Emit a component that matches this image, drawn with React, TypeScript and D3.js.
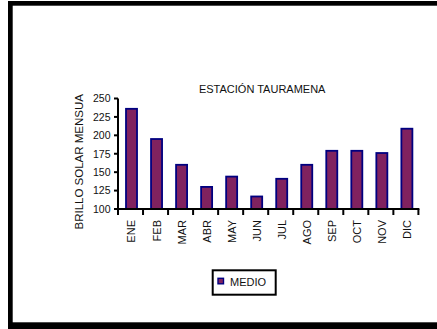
import React from "react";
import * as d3 from "d3";

const months = ["ENE", "FEB", "MAR", "ABR", "MAY", "JUN", "JUL", "AGO", "SEP", "OCT", "NOV", "DIC"];
const medio = [236, 195, 160, 130, 144, 117, 141, 160, 179, 179, 176, 209];
const yTicks = [100, 125, 150, 175, 200, 225, 250];

const W = 437;
const H = 329;
const FONT = "'Liberation Sans', Arial, sans-serif";
const FILL = "#80225f";
const EDGE = "#000080";

export default function App() {
  const left = 118;
  const right = 418.4;
  const top = 98.5;
  const bottom = 209;

  const x = d3.scaleBand<string>().domain(months).range([left, right]).paddingInner(0.56).paddingOuter(0.28);
  const xCat = d3.scaleBand<string>().domain(months).range([left, right]);
  const y = d3.scaleLinear().domain([100, 250]).range([bottom, top]);

  const boundaries = months.map((m) => xCat(m) as number).concat([right]);

  return (
    <svg
      width={W}
      height={H}
      style={{ position: "fixed", left: 0, top: 0, background: "#fff" }}
      fontFamily={FONT}
    >
      {/* outer frame */}
      <rect x={8} y={1} width={4.7} height={328} fill="#000" />
      <rect x={8} y={1} width={429} height={4.7} fill="#000" />
      <rect x={8} y={322.3} width={429} height={6.7} fill="#000" />

      {/* title */}
      <text x={262.2} y={92.5} fontSize={11} textAnchor="middle" fill="#111">
        ESTACIÓN TAURAMENA
      </text>

      {/* bars */}
      {months.map((m, i) => (
        <rect
          key={m}
          x={(x(m) as number) + 1}
          y={y(medio[i])}
          width={x.bandwidth()}
          height={bottom - y(medio[i])}
          fill={FILL}
          stroke={EDGE}
          strokeWidth={1.8}
        />
      ))}

      {/* y axis */}
      <line x1={left} x2={left} y1={top} y2={bottom + 6} stroke="#000" strokeWidth={2} />
      {yTicks.map((t) => (
        <g key={t}>
          <line x1={left - 4} x2={left} y1={y(t)} y2={y(t)} stroke="#000" strokeWidth={2} />
          <text x={110.5} y={y(t)} dy="0.36em" fontSize={10.5} textAnchor="end" fill="#111">
            {t}
          </text>
        </g>
      ))}

      {/* x axis */}
      <line x1={left - 1} x2={right + 1} y1={bottom} y2={bottom} stroke="#000" strokeWidth={2} />
      {boundaries.map((b, i) => (
        <line key={i} x1={b} x2={b} y1={bottom} y2={bottom + 6} stroke="#000" strokeWidth={2} />
      ))}
      {months.map((m) => {
        const cx = (xCat(m) as number) + xCat.bandwidth() / 2 + 1;
        return (
          <text
            key={m}
            transform={`translate(${cx},220) rotate(-90)`}
            dy="0.36em"
            fontSize={11}
            textAnchor="end"
            fill="#111"
          >
            {m}
          </text>
        );
      })}

      {/* y axis title */}
      <text
        transform="translate(79.3,161.8) rotate(-90)"
        dy="0.36em"
        fontSize={11.5}
        textAnchor="middle"
        fill="#111"
      >
        BRILLO SOLAR MENSUA
      </text>

      {/* legend */}
      <rect x={212.7} y={270.3} width={63} height={24.4} fill="#fff" stroke="#000" strokeWidth={2} />
      <rect x={218} y={278.3} width={5.5} height={5.5} fill={FILL} stroke={EDGE} strokeWidth={1.4} />
      <text x={230} y={285.5} fontSize={11} fill="#111">
        MEDIO
      </text>
    </svg>
  );
}
